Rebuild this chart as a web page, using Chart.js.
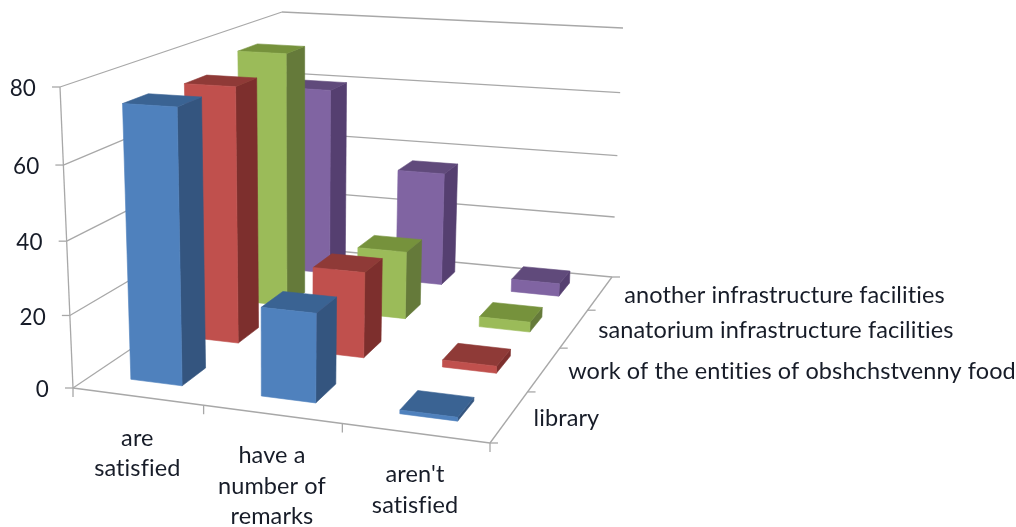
<!DOCTYPE html>
<html>
<head>
<meta charset="utf-8">
<style>
body { margin: 0; background: #fff; }
#box { width: 1016px; height: 527px; }
canvas { filter: blur(0.6px); }
</style>
<script src="https://cdn.jsdelivr.net/npm/chart.js@4"></script>
</head>
<body>
<div id="box"><canvas id="myChart"></canvas></div>
<script>
const categories = [["are", "satisfied"], ["have a", "number of", "remarks"], ["aren't", "satisfied"]];
const seriesNames = ["library", "work of the entities of obshchstvenny food", "sanatorium infrastructure facilities", "another infrastructure facilities"];
const library = [74.5, 24, 1];
const food = [73.5, 24.5, 2];
const sanatorium = [77, 20.5, 3];
const another = [60, 36, 4];
const valueTicks = [0, 20, 40, 60, 80];

// front face, side face, top face
const faces = [
    ["#4f81bd", "#34557f", "#3a6393"],
    ["#c0504d", "#7d2f2d", "#8f3a37"],
    ["#9bbb59", "#657a3a", "#76923c"],
    ["#8064a2", "#553f70", "#604a7b"]
];

// where the cube of the 3d view lands on the page
const floorQuad = [[73, 388], [490, 443], [612, 277], [284, 246]];
const ceilQuad = [[60, 87], [498, 113], [623, 28], [282, 12]];
const heightBend = 1.05;
const barWidth = 0.4;
const barDepth = 0.4;
const labelFont = "23.5px Lato";

const quadMap = (q) => {
    const [p0, p1, p2, p3] = q;
    const dx1 = p1[0] - p2[0], dx2 = p3[0] - p2[0], sx = p0[0] - p1[0] + p2[0] - p3[0];
    const dy1 = p1[1] - p2[1], dy2 = p3[1] - p2[1], sy = p0[1] - p1[1] + p2[1] - p3[1];
    const den = dx1 * dy2 - dx2 * dy1;
    const g = (sx * dy2 - dx2 * sy) / den;
    const h = (dx1 * sy - sx * dy1) / den;
    const a = p1[0] - p0[0] + g * p1[0], b = p3[0] - p0[0] + h * p3[0];
    const d = p1[1] - p0[1] + g * p1[1], e = p3[1] - p0[1] + h * p3[1];
    return (u, v) => {
        const w = g * u + h * v + 1;
        return [(a * u + b * v + p0[0]) / w, (d * u + e * v + p0[1]) / w];
    };
};
const onFloor = quadMap(floorQuad);
const onCeil = quadMap(ceilQuad);
const project = (u, d, v) => {
    const f = onFloor(u, d), c = onCeil(u, d);
    const t = v / (v + heightBend * (1 - v));
    return [f[0] + (c[0] - f[0]) * t, f[1] + (c[1] - f[1]) * t];
};

const line = (ctx, a, b) => {
    ctx.beginPath();
    ctx.moveTo(a[0], a[1]);
    ctx.lineTo(b[0], b[1]);
    ctx.stroke();
};
const poly = (ctx, pts, color) => {
    ctx.fillStyle = color;
    ctx.strokeStyle = color;
    ctx.lineWidth = 0.6;
    ctx.beginPath();
    pts.forEach((p, i) => i ? ctx.lineTo(p[0], p[1]) : ctx.moveTo(p[0], p[1]));
    ctx.closePath();
    ctx.fill();
    ctx.stroke();
};

const box3d = {
    id: "box3d",
    beforeDatasetsDraw(chart) {
        const ctx = chart.ctx;
        const x = chart.scales.x, y = chart.scales.y, depth = chart.scales.depth;
        const uOf = (i) => x.getDecimalForPixel(x.getPixelForValue(i));
        const dOf = (i) => depth.getDecimalForPixel(depth.getPixelForValue(i));
        const vOf = (val) => y.getDecimalForPixel(y.getPixelForValue(val));
        const bandU = 1 / categories.length, bandD = 1 / seriesNames.length;

        ctx.save();
        ctx.strokeStyle = "#a8a8a8";
        ctx.lineWidth = 1.3;
        ctx.fillStyle = "#171c28";
        ctx.textBaseline = "middle";
        ctx.letterSpacing = "0.1px";

        // walls
        valueTicks.forEach((t) => {
            const v = vOf(t);
            const a = project(0, 0, v), b = project(0, 1, v), c = project(1, 1, v);
            line(ctx, a, b);
            line(ctx, b, c);
            line(ctx, a, [a[0] - 8, a[1]]);
            ctx.font = "22.5px Lato";
            ctx.textAlign = "right";
            ctx.fillText(String(t), a[0] - 24, a[1] + 2);
        });
        line(ctx, project(0, 0, 0), project(0, 0, 1));

        // floor edges
        line(ctx, project(0, 0, 0), project(1, 0, 0));
        line(ctx, project(1, 0, 0), project(1, 1, 0));
        for (let i = 0; i <= categories.length; i++) {
            const p = project(i * bandU, 0, 0);
            line(ctx, p, [p[0], p[1] + 9]);
        }
        for (let i = 0; i <= seriesNames.length; i++) {
            const p = project(1, i * bandD, 0);
            line(ctx, p, [p[0] + 8, p[1]]);
        }

        // axis labels
        ctx.font = labelFont;
        ctx.textAlign = "center";
        categories.forEach((lines, i) => {
            const p = project(uOf(i), 0, 0);
            lines.forEach((s, k) => ctx.fillText(s, p[0], p[1] + 41.5 + k * 30.5));
        });
        ctx.textAlign = "left";
        seriesNames.forEach((s, i) => {
            const p = project(1, dOf(i), 0);
            ctx.fillText(s, p[0] + 24, p[1] + 2);
        });

        // bars, back row first
        for (let s = seriesNames.length - 1; s >= 0; s--) {
            chart.data.datasets[s].data.forEach((val, i) => {
                const u0 = uOf(i) - bandU * barWidth / 2, u1 = uOf(i) + bandU * barWidth / 2;
                const d0 = dOf(s) - bandD * barDepth / 2, d1 = dOf(s) + bandD * barDepth / 2;
                const v = vOf(val);
                const [front, side, top] = faces[s];
                poly(ctx, [project(u1, d0, 0), project(u1, d1, 0), project(u1, d1, v), project(u1, d0, v)], side);
                poly(ctx, [project(u0, d0, v), project(u1, d0, v), project(u1, d1, v), project(u0, d1, v)], top);
                poly(ctx, [project(u0, d0, 0), project(u1, d0, 0), project(u1, d0, v), project(u0, d0, v)], front);
            });
        }
        ctx.restore();
        return false;
    }
};

const myChart = new Chart(document.getElementById("myChart"), {
    type: "bar",
    data: {
        labels: categories.map((c) => c.join(" ")),
        datasets: [
            { label: seriesNames[0], data: library, backgroundColor: faces[0][0] },
            { label: seriesNames[1], data: food, backgroundColor: faces[1][0] },
            { label: seriesNames[2], data: sanatorium, backgroundColor: faces[2][0] },
            { label: seriesNames[3], data: another, backgroundColor: faces[3][0] }
        ]
    },
    options: {
        responsive: true,
        maintainAspectRatio: false,
        animation: false,
        layout: { padding: 0 },
        scales: {
            x: { display: false },
            y: { display: false, min: 0, max: 80 },
            depth: { type: "category", axis: "x", labels: seriesNames, display: false }
        },
        plugins: {
            legend: { display: false },
            tooltip: { enabled: false }
        }
    },
    plugins: [box3d]
});
</script>
</body>
</html>
